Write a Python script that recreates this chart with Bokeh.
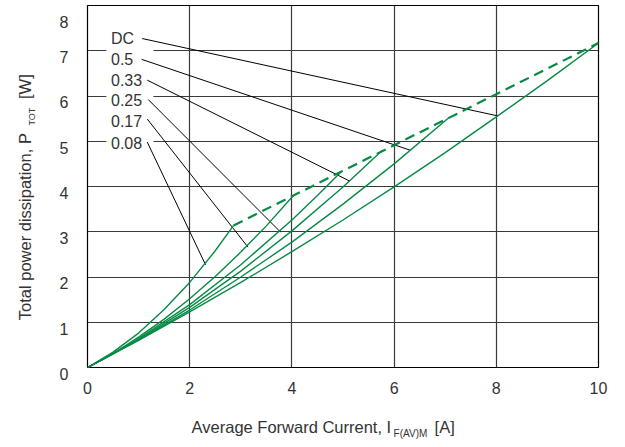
from math import pi
from bokeh.plotting import figure
from bokeh.models import Range1d, FixedTicker, LinearAxis
from bokeh.core.properties import value
from bokeh.embed import file_html
from bokeh.resources import INLINE

# ---- data ----
x_dc = [0, 1, 2, 3, 4, 5, 6, 7, 8, 9, 10]
y_dc = [0, 0.60, 1.23, 1.88, 2.56, 3.26, 3.99, 4.75, 5.54, 6.34, 7.17]
x_50 = [0, 1, 2, 3, 4, 5, 6, 7.07]
y_50 = [0, 0.61, 1.27, 2.00, 2.77, 3.61, 4.50, 5.52]
x_33 = [0, 1, 2, 3, 4, 5, 5.77]
y_33 = [0, 0.62, 1.33, 2.13, 3.02, 3.99, 4.80]
x_25 = [0, 0.5, 1, 2, 3, 4, 4.5, 4.97]
y_25 = [0, 0.30, 0.64, 1.39, 2.27, 3.26, 3.80, 4.33]
x_17 = [0, 0.5, 1, 1.5, 2, 2.5, 3, 3.5, 4.03]
y_17 = [0, 0.31, 0.67, 1.07, 1.52, 2.01, 2.55, 3.13, 3.80]
x_08 = [0, 0.5, 1, 1.5, 2, 2.5, 2.86]
y_08 = [0, 0.34, 0.76, 1.28, 1.88, 2.58, 3.14]

# dashed limit line through the curve end points
x_lim = [2.86, 10]
y_lim = [3.14, 7.17]

curve_labels = ["DC", "0.5", "0.33", "0.25", "0.17", "0.08"]
label_y = [7.27, 6.81, 6.35, 5.91, 5.44, 4.97]
leader_x0 = [1.07, 1.06, 1.17, 1.19, 1.17, 1.17]
leader_y0 = [7.27, 6.81, 6.35, 5.92, 5.49, 4.98]
leader_x1 = [8.03, 6.32, 5.13, 3.78, 3.14, 2.31]
leader_y1 = [5.56, 4.80, 4.12, 2.99, 2.66, 2.27]

x_ticks = [0, 2, 4, 6, 8, 10]
y_ticks = [0, 1, 2, 3, 4, 5, 6, 7, 8]

# axis title pieces (text, position along the axis)
x_title = {3.99: "Average Forward Current, I", 6.99: "[A]"}
x_title_sub = {6.32: "F(AV)M"}
y_title = {5.18: "Total power dissipation, P", 6.48: "[W]"}   # positions of text ends
y_title_sub = {5.74: "TOT"}

FONT = "Liberation Sans"
TXT = "#333333"
GREEN = "#078a45"

p = figure(width=625, height=447, x_range=Range1d(0, 10), y_range=Range1d(0, 8),
           output_backend="svg", toolbar_location=None,
           min_border_left=87, min_border_right=27, min_border_top=5, min_border_bottom=80)
p.title.visible = False
p.background_fill_color = "white"
p.border_fill_color = "white"
p.outline_line_color = "black"
p.outline_line_width = 1.2


def style_axis(ax, size):
    ax.axis_line_color = None
    ax.major_tick_line_color = None
    ax.minor_tick_line_color = None
    ax.major_tick_in = 0
    ax.major_tick_out = 0
    ax.major_label_text_font = FONT
    ax.major_label_text_font_size = size
    ax.major_label_text_color = TXT


style_axis(p.xaxis[0], "16px")
style_axis(p.yaxis[0], "16px")
p.xaxis[0].ticker = FixedTicker(ticks=x_ticks)
p.yaxis[0].ticker = FixedTicker(ticks=y_ticks)
p.xaxis[0].major_label_standoff = 14
p.yaxis[0].major_label_standoff = 19
# labels on the y axis sit a little below their grid line
p.yaxis[0].major_label_overrides = {t: "\n" + str(t) for t in y_ticks}
p.yaxis[0].major_label_text_line_height = 0.8

# x title pieces as extra axes below
ax_t = LinearAxis(ticker=FixedTicker(ticks=list(x_title.keys())),
                  major_label_overrides=x_title, major_label_standoff=21)
style_axis(ax_t, "16.5px")
p.add_layout(ax_t, "below")
ax_ts = LinearAxis(ticker=FixedTicker(ticks=list(x_title_sub.keys())),
                   major_label_overrides=x_title_sub, major_label_standoff=-11)
style_axis(ax_ts, "10px")
p.add_layout(ax_ts, "below")

# y title pieces as extra axes on the left
ay_ts = LinearAxis(ticker=FixedTicker(ticks=list(y_title_sub.keys())),
                   major_label_overrides=y_title_sub, major_label_standoff=24,
                   major_label_orientation=pi / 2)
style_axis(ay_ts, "9px")
p.add_layout(ay_ts, "left")
ay_t = LinearAxis(ticker=FixedTicker(ticks=list(y_title.keys())),
                  major_label_overrides=y_title, major_label_standoff=-6,
                  major_label_orientation=pi / 2)
style_axis(ay_t, "16.5px")
p.add_layout(ay_t, "left")

p.xgrid.ticker = FixedTicker(ticks=[2, 4, 6, 8])
p.ygrid.ticker = FixedTicker(ticks=[1, 2, 3, 4, 5, 6, 7])
p.xgrid.grid_line_color = "#3a3a3a"
p.ygrid.grid_line_color = "#3a3a3a"
p.xgrid.grid_line_width = 1.2
p.ygrid.grid_line_width = 1.2

# white boxes behind the curve labels
p.rect(x=[0.83] * len(label_y), y=label_y, width=47, height=19,
       width_units="screen", height_units="screen",
       fill_color="white", line_color=None)

# leader lines
p.segment(x0=leader_x0, y0=leader_y0, x1=leader_x1, y1=leader_y1,
          line_color="black", line_width=1)

# curves
for xs, ys in [(x_dc, y_dc), (x_50, y_50), (x_33, y_33), (x_25, y_25), (x_17, y_17), (x_08, y_08)]:
    p.line(xs, ys, line_color=GREEN, line_width=1.4)
p.line(x_lim, y_lim, line_color=GREEN, line_width=2.2, line_dash="10 6")

# curve labels
p.text(x=[0.46] * len(label_y), y=label_y, text=curve_labels,
       text_font=value(FONT), text_font_size="16px", text_color=TXT,
       text_align="left", text_baseline="middle")

open("out.html", "w").write(file_html(p, INLINE))
